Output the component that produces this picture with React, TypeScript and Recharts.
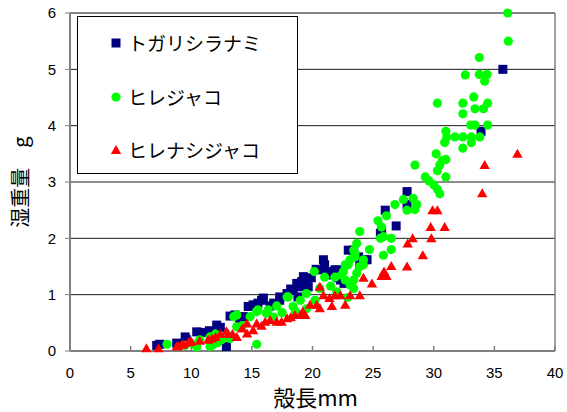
import React from 'react';
import { ScatterChart, Scatter, XAxis, YAxis, CartesianGrid, ReferenceLine, Legend } from 'recharts';

const seriesNames = ['トガリシラナミ', 'ヒレジャコ', 'ヒレナシジャコ'];
const seriesColors = ['#000080', '#00FF00', '#FF0000'];
const xTicks = [0, 5, 10, 15, 20, 25, 30, 35, 40];
const yTicks = [0, 1, 2, 3, 4, 5, 6];

// トガリシラナミ [shell length mm, wet weight g]
const togariPoints: number[][] = [
  [7.15, 0.1], [7.4, 0.12], [8.8, 0.14], [9.5, 0.25], [9.6, 0.2], [10.45, 0.34], [10.9, 0.33], [11.5, 0.36],
  [12.1, 0.46], [12.4, 0.42], [12.9, 0.08], [13.2, 0.62], [13.6, 0.64], [14.0, 0.55], [14.0, 0.6], [14.3, 0.61],
  [14.7, 0.79], [15.1, 0.82], [15.5, 0.85], [15.8, 0.9], [15.95, 0.94], [16.5, 0.8], [16.8, 0.85], [17.3, 0.9],
  [17.3, 0.96], [17.9, 1.02], [18.2, 1.1], [18.4, 1.08], [18.7, 1.2], [18.8, 0.96], [19.0, 1.14], [19.1, 1.23],
  [19.25, 1.32], [19.5, 1.26], [19.65, 1.14], [19.9, 1.3], [20.3, 1.45], [20.75, 1.44], [20.9, 1.62], [21.0, 1.53],
  [21.2, 1.35], [21.4, 1.41], [21.85, 1.44], [22.0, 1.44], [22.1, 1.3], [22.3, 1.26], [22.6, 1.2], [22.95, 1.79],
  [23.4, 1.79], [23.8, 1.67], [23.9, 1.53], [24.3, 1.62], [24.5, 1.62], [25.6, 2.09], [25.7, 2.15], [26.0, 2.5],
  [26.9, 2.22], [27.8, 2.6], [27.8, 2.83], [33.9, 3.9], [35.7, 5.0],
];

// ヒレジャコ
const hirejakoPoints: number[][] = [
  [8.0, 0.12], [9.5, 0.1], [10.2, 0.12], [10.45, 0.07], [10.7, 0.2], [11.55, 0.08], [11.55, 0.25], [11.8, 0.11],
  [12.0, 0.3], [12.2, 0.15], [12.5, 0.2], [13.2, 0.22], [13.5, 0.61], [13.75, 0.43], [13.75, 0.64], [14.2, 0.45],
  [14.85, 0.61], [15.4, 0.12], [15.4, 0.7], [15.5, 0.73], [16.2, 0.67], [16.35, 0.73], [16.8, 0.6], [17.05, 0.8],
  [17.5, 0.68], [17.9, 0.96], [18.0, 0.96], [18.4, 0.79], [18.6, 0.7], [19.0, 0.9], [19.5, 1.02], [19.5, 0.75],
  [20.15, 1.41], [20.2, 0.9], [20.6, 1.11], [21.0, 1.31], [21.5, 1.15], [21.85, 1.31], [22.0, 1.05], [22.4, 1.35],
  [22.55, 1.41], [22.7, 1.26], [22.7, 1.53], [22.9, 0.95], [22.95, 1.53], [23.1, 1.17], [23.1, 1.62], [23.4, 1.11],
  [23.4, 1.26], [23.4, 1.79], [23.5, 1.67], [23.5, 1.73], [23.65, 1.38], [23.65, 1.91], [23.9, 1.5], [23.9, 2.12],
  [24.2, 1.53], [24.2, 1.62], [24.7, 1.8], [25.4, 2.31], [25.6, 2.0], [25.7, 2.2], [25.85, 1.7], [25.85, 2.03],
  [26.1, 2.4], [26.5, 1.8], [26.5, 2.0], [26.8, 2.6], [27.5, 2.69], [27.8, 2.5], [28.3, 2.71], [28.45, 2.51],
  [28.45, 3.3], [28.6, 2.6], [29.3, 3.09], [29.6, 3.02], [30.0, 2.95], [30.2, 3.5], [30.3, 2.87], [30.3, 3.2],
  [30.3, 4.4], [30.5, 2.79], [30.5, 3.3], [30.7, 3.38], [30.9, 3.7], [31.0, 3.09], [31.0, 3.4], [31.0, 3.9],
  [31.07, 3.8], [31.75, 3.8], [32.4, 3.6], [32.4, 3.8], [32.4, 4.21], [32.4, 4.4], [32.6, 4.9], [33.05, 4.01],
  [33.1, 3.7], [33.1, 3.8], [33.3, 4.51], [33.4, 4.01], [33.4, 4.3], [33.76, 4.91], [33.76, 5.21], [33.8, 3.8],
  [34.1, 4.3], [34.2, 4.79], [34.4, 4.91], [34.45, 4.01], [34.45, 4.4], [36.1, 6.0], [36.15, 5.5],
];

// ヒレナシジャコ
const hirenashiPoints: number[][] = [
  [6.3, 0.05], [7.3, 0.05], [8.8, 0.08], [8.9, 0.09], [9.2, 0.11], [9.35, 0.12], [9.75, 0.15], [9.9, 0.17],
  [10.0, 0.17], [10.7, 0.18], [11.4, 0.2], [11.7, 0.22], [12.0, 0.25], [12.4, 0.3], [12.9, 0.35], [13.05, 0.3],
  [13.4, 0.3], [13.75, 0.25], [14.2, 0.4], [14.6, 0.31], [15.1, 0.37], [14.6, 0.49], [15.4, 0.49], [15.8, 0.45],
  [16.1, 0.52], [16.5, 0.55], [17.05, 0.52], [17.45, 0.52], [17.9, 0.58], [18.2, 0.6], [18.55, 0.64], [19.0, 0.64],
  [19.2, 0.7], [19.4, 0.64], [19.8, 0.82], [20.35, 0.82], [20.6, 0.76], [20.6, 1.14], [20.9, 0.99], [21.4, 0.94],
  [21.6, 0.8], [21.85, 0.99], [22.3, 0.99], [22.7, 0.82], [23.1, 0.99], [23.9, 0.99], [24.2, 1.3], [24.9, 1.2],
  [25.7, 1.33], [25.9, 1.41], [26.1, 1.33], [26.5, 1.51], [27.8, 1.5], [27.85, 1.91], [28.26, 2.0], [29.1, 1.7],
  [29.8, 2.0], [29.75, 2.2], [30.9, 2.2], [29.9, 2.5], [30.3, 2.5], [34.0, 2.8], [34.2, 3.3], [36.9, 3.5],
];

const toData = (pts: number[][]) => pts.map(([x, y]) => ({ x, y }));

const SquareShape = (p: any) => (
  <rect x={p.cx - 4.5} y={p.cy - 4.5} width={9} height={9} fill={seriesColors[0]} />
);
const CircleShape = (p: any) => <circle cx={p.cx} cy={p.cy} r={4.6} fill={seriesColors[1]} />;
const TriangleShape = (p: any) => (
  <polygon
    points={`${p.cx},${p.cy - 5} ${p.cx - 5.2},${p.cy + 4} ${p.cx + 5.2},${p.cy + 4}`}
    fill={seriesColors[2]}
  />
);

const legendMarkers = [
  <rect x={1.5} y={1.5} width={9} height={9} fill={seriesColors[0]} />,
  <circle cx={6} cy={6} r={4.6} fill={seriesColors[1]} />,
  <polygon points="6,1 0.8,10 11.2,10" fill={seriesColors[2]} />,
];
const rowCenters = [26, 80, 133];

const LegendBox = () => (
  <div
    style={{
      width: 221,
      height: 158,
      border: '1px solid #000',
      background: '#fff',
      boxSizing: 'border-box',
      position: 'relative',
      fontFamily: '"Noto Sans CJK JP", sans-serif',
    }}
  >
    {seriesNames.map((name, i) => (
      <div key={name} style={{ position: 'absolute', left: 0, top: rowCenters[i], height: 0, width: '100%' }}>
        <svg style={{ position: 'absolute', left: 32, top: -6 }} width={12} height={12}>
          {legendMarkers[i]}
        </svg>
        <span
          style={{
            position: 'absolute',
            left: 50,
            top: -11,
            fontSize: 19,
            lineHeight: '22px',
            whiteSpace: 'nowrap',
            color: '#000',
          }}
        >
          {name}
        </span>
      </div>
    ))}
  </div>
);

const XTick = (p: any) => {
  const { x, y, payload } = p;
  return (
    <g>
      <line x1={x} x2={x} y1={y} y2={y - 5} stroke="#808080" strokeWidth={1.5} />
      <text
        x={x}
        y={y + 27}
        textAnchor="middle"
        fontSize={15}
        fontFamily='"Liberation Sans", Arial, sans-serif'
        fill="#000"
      >
        {payload.value}
      </text>
    </g>
  );
};

const YLabel = (p: any) => {
  const vb = p.viewBox || { x: 0, y: 13, width: 70, height: 338 };
  const cx = 19;
  const cy = vb.y + vb.height / 2;
  return (
    <text
      transform={`translate(${cx},${cy}) rotate(-90)`}
      textAnchor="middle"
      dominantBaseline="central"
      fontSize={20}
      fontFamily='"Noto Sans CJK JP", sans-serif'
      fill="#000"
    >
      湿重量　g
    </text>
  );
};

const XLabel = (p: any) => {
  const vb = p.viewBox || { x: 70, y: 351, width: 485, height: 50 };
  const cx = vb.x + vb.width / 2 + 3;
  return (
    <text
      x={cx}
      y={vb.y + 55}
      textAnchor="middle"
      fontSize={22}
      fontFamily='"Noto Sans CJK JP", sans-serif'
      fill="#000"
    >
      殻長mm
    </text>
  );
};

export default function App() {
  return (
    <div style={{ position: 'absolute', left: 0, top: 0, background: '#fff' }}>
      <ScatterChart width={567} height={412} margin={{ top: 13, right: 12, bottom: 11, left: 0 }}>
        <CartesianGrid horizontal vertical={false} stroke="#1a1a1a" strokeOpacity={1} />
        <XAxis
          type="number"
          dataKey="x"
          domain={[0, 40]}
          ticks={xTicks}
          interval={0}
          height={50}
          tickSize={0}
          tickMargin={0}
          tickLine={false}
          tick={<XTick />}
          axisLine={{ stroke: '#808080', strokeWidth: 2 }}
          label={XLabel}
        />
        <YAxis
          type="number"
          dataKey="y"
          domain={[0, 6]}
          ticks={yTicks}
          interval={0}
          width={70}
          tickSize={5}
          tickMargin={9}
          tickLine={{ stroke: '#808080' }}
          tick={{ fontSize: 15, fill: '#000', fontFamily: '"Liberation Sans", Arial, sans-serif' }}
          axisLine={{ stroke: '#808080', strokeWidth: 2 }}
          label={YLabel}
        />
        <ReferenceLine x={40} stroke="#808080" strokeWidth={1.5} />
        <ReferenceLine y={6} stroke="#808080" strokeWidth={1.5} />
        <Legend
          layout="vertical"
          align="center"
          verticalAlign="middle"
          wrapperStyle={{ left: 77, top: 16, width: 221, height: 158 }}
          content={<LegendBox />}
        />
        <Scatter name={seriesNames[0]} data={toData(togariPoints)} shape={SquareShape} isAnimationActive={false} />
        <Scatter name={seriesNames[1]} data={toData(hirejakoPoints)} shape={CircleShape} isAnimationActive={false} />
        <Scatter name={seriesNames[2]} data={toData(hirenashiPoints)} shape={TriangleShape} isAnimationActive={false} />
      </ScatterChart>
    </div>
  );
}
